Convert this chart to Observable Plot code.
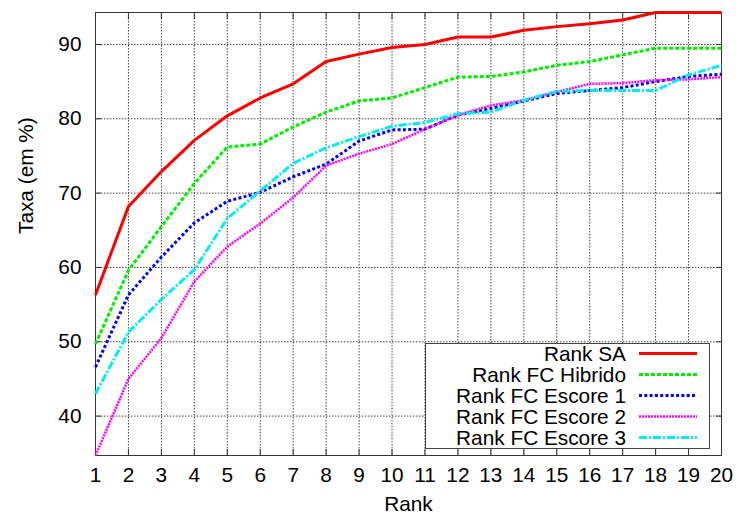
<!DOCTYPE html>
<html><head><meta charset="utf-8">
<script src="https://cdn.jsdelivr.net/npm/d3@7"></script>
<script src="https://cdn.jsdelivr.net/npm/@observablehq/plot@0.6"></script>
<style>body{margin:0;background:#fff} #chart svg{display:block}</style>
</head><body><div id="chart"></div>
<script>
// ---- data ----
const ranks = [1,2,3,4,5,6,7,8,9,10,11,12,13,14,15,16,17,18,19,20];
const yTicks = [40,50,60,70,80,90];
const seriesNames = ["Rank SA","Rank FC Hibrido","Rank FC Escore 1","Rank FC Escore 2","Rank FC Escore 3"];
const rankSA   = [56.3,68.2,72.9,77.1,80.4,82.8,84.7,87.7,88.7,89.6,90.0,91.0,91.0,91.9,92.4,92.8,93.3,94.3,94.3,94.3];
const hibrido  = [49.7,59.6,65.5,71.3,76.2,76.6,78.9,80.9,82.4,82.8,84.2,85.6,85.7,86.3,87.2,87.7,88.6,89.5,89.5,89.5];
const escore1  = [46.6,56.3,61.4,66.0,68.9,70.1,72.2,73.9,77.0,78.5,78.6,80.5,81.4,82.4,83.4,83.8,84.2,85.0,85.7,86.0];
const escore2  = [34.7,45.0,50.5,58.1,62.8,65.9,69.4,73.7,75.3,76.6,78.6,80.5,81.8,82.5,83.6,84.7,84.8,85.2,85.3,85.6];
const escore3  = [43.0,51.3,55.7,59.7,66.6,70.3,74.0,76.1,77.6,79.0,79.5,80.7,80.9,82.5,83.7,83.8,83.8,83.8,85.9,87.2];
const seriesValues = [rankSA, hibrido, escore1, escore2, escore3];

// ---- styles ----
const styles = [
  {color:"#ff0000", dash:null,      width:3},
  {color:"#00ee00", dash:"4,2",     width:3},
  {color:"#0000ff", dash:"3,2.3",   width:3},
  {color:"#ff00ff", dash:"2,1",     width:2.5},
  {color:"#00eeee", dash:"8,2,2,2", width:3}
];

const rows = seriesNames.flatMap((s,i) => ranks.map((r,j) => ({series:s, rank:r, value:seriesValues[i][j]})));

const W=738, H=514, mL=95, mR=17, mT=12, mB=59;
const FS = 20.8;
const font = "'Liberation Sans', Arial, Helvetica, sans-serif";
const gridStyle = {stroke:"#444", strokeOpacity:1, strokeWidth:1, strokeDasharray:"1.5,1.5"};

const lineMarks = seriesNames.map((s,i) => Plot.line(rows.filter(d => d.series === s), {
  x:"rank", y:"value", stroke:styles[i].color, strokeWidth:styles[i].width,
  strokeDasharray:styles[i].dash, strokeLinecap:"butt", strokeLinejoin:"miter"
}));

const plot = Plot.plot({
  width:W, height:H, marginLeft:mL, marginRight:mR, marginTop:mT, marginBottom:mB,
  style:{fontFamily:font, fontSize:FS+"px", color:"#000", background:"#fff", overflow:"visible"},
  x:{type:"linear", domain:[1,20], label:null},
  y:{type:"linear", domain:[34.7,94.3], label:null},
  marks:[
    Plot.gridX(ranks, gridStyle),
    Plot.gridY(yTicks, gridStyle),
    Plot.axisX(ranks, {anchor:"bottom", tickSize:0, tickPadding:12, label:null, fontSize:FS, tickFormat:d=>d}),
    Plot.axisX(ranks, {anchor:"bottom", tickSize:6, dy:-6, label:null, tickFormat:()=>"", stroke:"#333"}),
    Plot.axisX(ranks, {anchor:"top", tickSize:6, dy:6, label:null, tickFormat:()=>"", stroke:"#333"}),
    Plot.axisY(yTicks, {anchor:"left", tickSize:0, tickPadding:14, label:null, fontSize:FS}),
    Plot.axisY(yTicks, {anchor:"left", tickSize:6, dx:6, label:null, tickFormat:()=>"", stroke:"#333"}),
    Plot.axisY(yTicks, {anchor:"right", tickSize:6, dx:-6, label:null, tickFormat:()=>"", stroke:"#333"}),
    Plot.frame({stroke:"#333", strokeWidth:1}),
    ...lineMarks,
    Plot.text(["Rank"], {frameAnchor:"bottom", dy:55, lineAnchor:"bottom", fontSize:FS, fill:"#000"}),
    Plot.text(["Taxa (em %)"], {frameAnchor:"left", rotate:-90, dx:-63, lineAnchor:"bottom", fontSize:FS, fill:"#000"})
  ]
});
document.getElementById("chart").appendChild(plot);

// ---- legend (gnuplot style box, inside the plot) ----
const svg = d3.select(plot);
const lg = svg.append("g").attr("font-family", font).attr("font-size", FS);
const box = {x:425.5, y:343.5, w:284, h:105};
lg.append("rect").attr("x",box.x).attr("y",box.y).attr("width",box.w).attr("height",box.h)
  .attr("fill","#fff").attr("stroke","#444").attr("stroke-width",1);
seriesNames.forEach((s,i) => {
  const cy = box.y + 10 + i*21;
  lg.append("text").attr("x", 626).attr("y", cy).attr("dy","0.35em").attr("text-anchor","end").attr("fill","#000").text(s);
  lg.append("line").attr("x1",639).attr("x2",697).attr("y1",cy).attr("y2",cy)
    .attr("stroke",styles[i].color).attr("stroke-width",styles[i].width)
    .attr("stroke-dasharray",styles[i].dash).attr("stroke-linecap","butt");
});
</script>
</body></html>
